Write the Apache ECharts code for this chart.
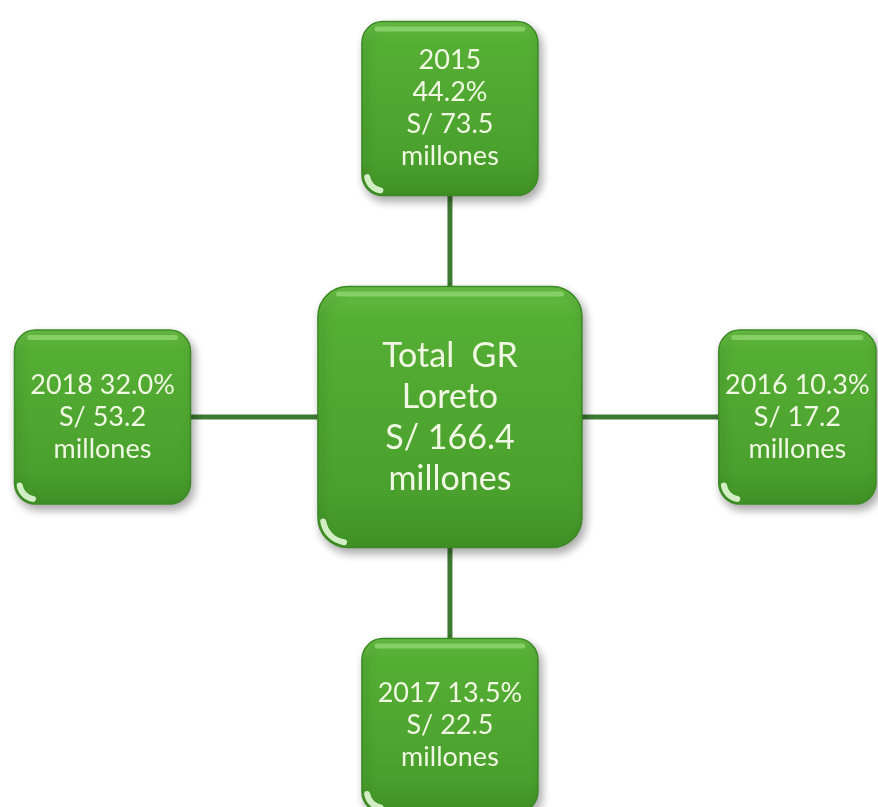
<!DOCTYPE html>
<html>
<head>
<meta charset="utf-8">
<script src="https://cdn.jsdelivr.net/npm/echarts@6/dist/echarts.min.js"></script>
<style>
  html, body { margin: 0; padding: 0; background: #fff; }
  #chart { width: 878px; height: 807px; }
</style>
</head>
<body>
<div id="chart"></div>
<script>
// central node
const totalName = 'Total  GR\nLoreto'
const totalAmount = 166.4

// one box per year, placed clockwise from the top
const years = ['2015', '2016', '2017', '2018']
const shares = [44.2, 10.3, 13.5, 32.0]
const amounts = [73.5, 17.2, 22.5, 53.2]
const sides = ['top', 'right', 'bottom', 'left']

const sideOffset = {
  top: [0, 1],
  right: [1, 0],
  bottom: [0, -1],
  left: [-1, 0]
}

const boxText = (i) => {
  if (i < 0) return totalName + '\nS/ ' + totalAmount.toFixed(1) + '\nmillones'
  const sep = sides[i] === 'top' ? '\n' : ' '
  return years[i] + sep + shares[i].toFixed(1) + '%\nS/ ' + amounts[i].toFixed(1) + '\nmillones'
}

const boxData = [[0, 0, -1]].concat(years.map((y, i) => sideOffset[sides[i]].concat(i)))
const linkData = years.map((y, i) => sideOffset[sides[i]])

const boxFill = new echarts.graphic.LinearGradient(0, 0, 0, 1, [
  { offset: 0, color: '#68bf44' },
  { offset: 0.12, color: '#55ae34' },
  { offset: 0.8, color: '#4aa02d' },
  { offset: 1, color: '#3f9025' }
])

const renderBox = (params, api) => {
  const c = api.coord([api.value(0), api.value(1)])
  const idx = api.value(2)
  const isCenter = idx < 0
  const h = isCenter ? 261 : 174
  const w = Math.min(isCenter ? 264 : 176, 2 * (api.getWidth() - 2 - c[0]))
  const r = isCenter ? 30 : 21
  const x = c[0] - w / 2
  const y = c[1] - h / 2
  return {
    type: 'group',
    children: [
      {
        type: 'rect',
        shape: { x: x, y: y, width: w, height: h, r: r },
        style: {
          fill: boxFill,
          stroke: '#3c8a25',
          lineWidth: 1.5,
          shadowBlur: 10,
          shadowOffsetX: 3,
          shadowOffsetY: 5,
          shadowColor: 'rgba(0,0,0,0.35)'
        }
      },
      {
        type: 'rect',
        shape: { x: x + r * 0.6, y: y + 5, width: w - r * 1.2, height: 5, r: 2.5 },
        style: { fill: 'rgba(175,235,145,0.5)' }
      },
      {
        type: 'arc',
        shape: { cx: x + r, cy: y + h - r, r: r - 5, startAngle: Math.PI * 0.55, endAngle: Math.PI * 0.95 },
        style: { stroke: 'rgba(235,255,225,0.85)', lineWidth: 6, lineCap: 'round', fill: null }
      },
      {
        type: 'text',
        style: {
          text: boxText(idx),
          x: c[0],
          y: c[1],
          align: 'center',
          verticalAlign: 'middle',
          fill: '#f0f7e2',
          fontFamily: 'Lato',
          fontSize: isCenter ? 34 : 27,
          lineHeight: isCenter ? 41 : 32
        }
      }
    ]
  }
}

const renderLink = (params, api) => {
  const from = api.coord([0, 0])
  const to = api.coord([api.value(0), api.value(1)])
  return {
    type: 'line',
    shape: { x1: from[0], y1: from[1], x2: to[0], y2: to[1] },
    style: { stroke: '#3e7a32', lineWidth: 5 }
  }
}

const chart = echarts.init(document.getElementById('chart'))
chart.setOption({
  animation: false,
  grid: { left: 0, right: 0, top: 0, bottom: 0 },
  xAxis: { type: 'value', min: -1.295, max: 1.232, show: false },
  yAxis: { type: 'value', min: -1.264, max: 1.352, show: false },
  series: [
    { type: 'custom', renderItem: renderLink, data: linkData, silent: true },
    { type: 'custom', renderItem: renderBox, data: boxData, silent: true }
  ]
})
</script>
</body>
</html>
